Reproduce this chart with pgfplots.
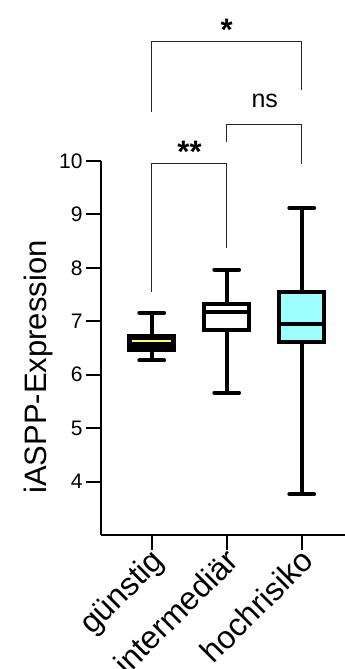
\documentclass[border=0pt]{standalone}
\usepackage{pgfplots}
\pgfplotsset{compat=1.18}
\usepackage{fontspec}
\setmainfont{Liberation Sans}
\definecolor{boxcyan}{RGB}{158,255,255}
\definecolor{medyellow}{RGB}{255,250,110}
\begin{document}
\begin{tikzpicture}
\begin{axis}[
  name=ax, at={(0,0)}, anchor=south west,
  scale only axis, width=244pt, height=374pt,
  xmin=0.324, xmax=3.577, ymin=3, ymax=10,
  axis x line*=bottom, axis y line*=left,
  axis line style={-, line width=2pt},
  tick align=outside, major tick length=15pt,
  tick style={line width=2pt, black},
  xtick={1,2,3}, xticklabels={günstig,intermediär,hochrisiko},
  ytick={4,5,6,7,8,9,10},
  /pgf/number format/assume math mode=true,
  y tick label style={font=\fontsize{21}{25}\selectfont},
  x tick label style={font=\fontsize{32}{38}\selectfont, rotate=45, anchor=north east, xshift=4pt, yshift=8pt},
  ylabel={iASPP-Expression},
  ylabel style={font=\fontsize{31}{36}\selectfont, at={(axis description cs:-0.258,0.449)}, anchor=center},
  clip=false,
  every axis plot/.append style={line width=4pt, black},
]
% --- guenstig
\addplot[line cap=butt] coordinates {(1,6.267) (1,7.159)};
\addplot[line cap=round] coordinates {(0.835,7.159) (1.165,7.159)};
\addplot[line cap=round] coordinates {(0.835,6.267) (1.165,6.267)};
\addplot[line cap=rect, line join=miter, fill=black] coordinates {(0.7,6.467) (1.3,6.467) (1.3,6.723) (0.7,6.723) (0.7,6.467)};
\addplot[medyellow, line width=2pt] coordinates {(0.737,6.636) (1.263,6.636)};
% --- intermediaer
\addplot[line cap=butt] coordinates {(2,5.664) (2,7.968)};
\addplot[line cap=round] coordinates {(1.835,7.968) (2.165,7.968)};
\addplot[line cap=round] coordinates {(1.835,5.664) (2.165,5.664)};
\addplot[line cap=rect, line join=miter, fill=white] coordinates {(1.7,6.841) (2.3,6.841) (2.3,7.327) (1.7,7.327) (1.7,6.841)};
\addplot[line cap=butt] coordinates {(1.7,7.172) (2.3,7.172)};
% --- hochrisiko
\addplot[line cap=butt] coordinates {(3,3.763) (3,9.121)};
\addplot[line cap=round] coordinates {(2.835,9.121) (3.165,9.121)};
\addplot[line cap=round] coordinates {(2.835,3.763) (3.165,3.763)};
\addplot[line cap=rect, line join=miter, fill=boxcyan] coordinates {(2.7,6.617) (3.3,6.617) (3.3,7.546) (2.7,7.546) (2.7,6.617)};
\addplot[line cap=butt] coordinates {(2.7,6.948) (3.3,6.948)};
% --- significance brackets
\draw[line width=1.3pt, black!85] (axis cs:1,7.557) |- (axis cs:2,9.957) -- (axis cs:2,8.368);
\draw[line width=1.3pt, black!85] (axis cs:2,10.36) |- (axis cs:3,10.686) -- (axis cs:3,9.944);
\draw[line width=1.3pt, black!85] (axis cs:1,10.92) |- (axis cs:3,12.243) -- (axis cs:3,11.33);
\node[anchor=base, font=\bfseries\fontsize{31}{36}\selectfont] at (axis cs:2,12.26) {*};
\node[anchor=base, font=\bfseries\fontsize{31}{36}\selectfont] at (axis cs:1.504,9.98) {**};
\node[anchor=base, font=\fontsize{25}{30}\selectfont] at (axis cs:2.507,11.004) {ns};
\end{axis}
\pgfresetboundingbox
\path[use as bounding box] (-101pt,-134pt) rectangle (244pt,535pt);
\end{tikzpicture}
\end{document}
